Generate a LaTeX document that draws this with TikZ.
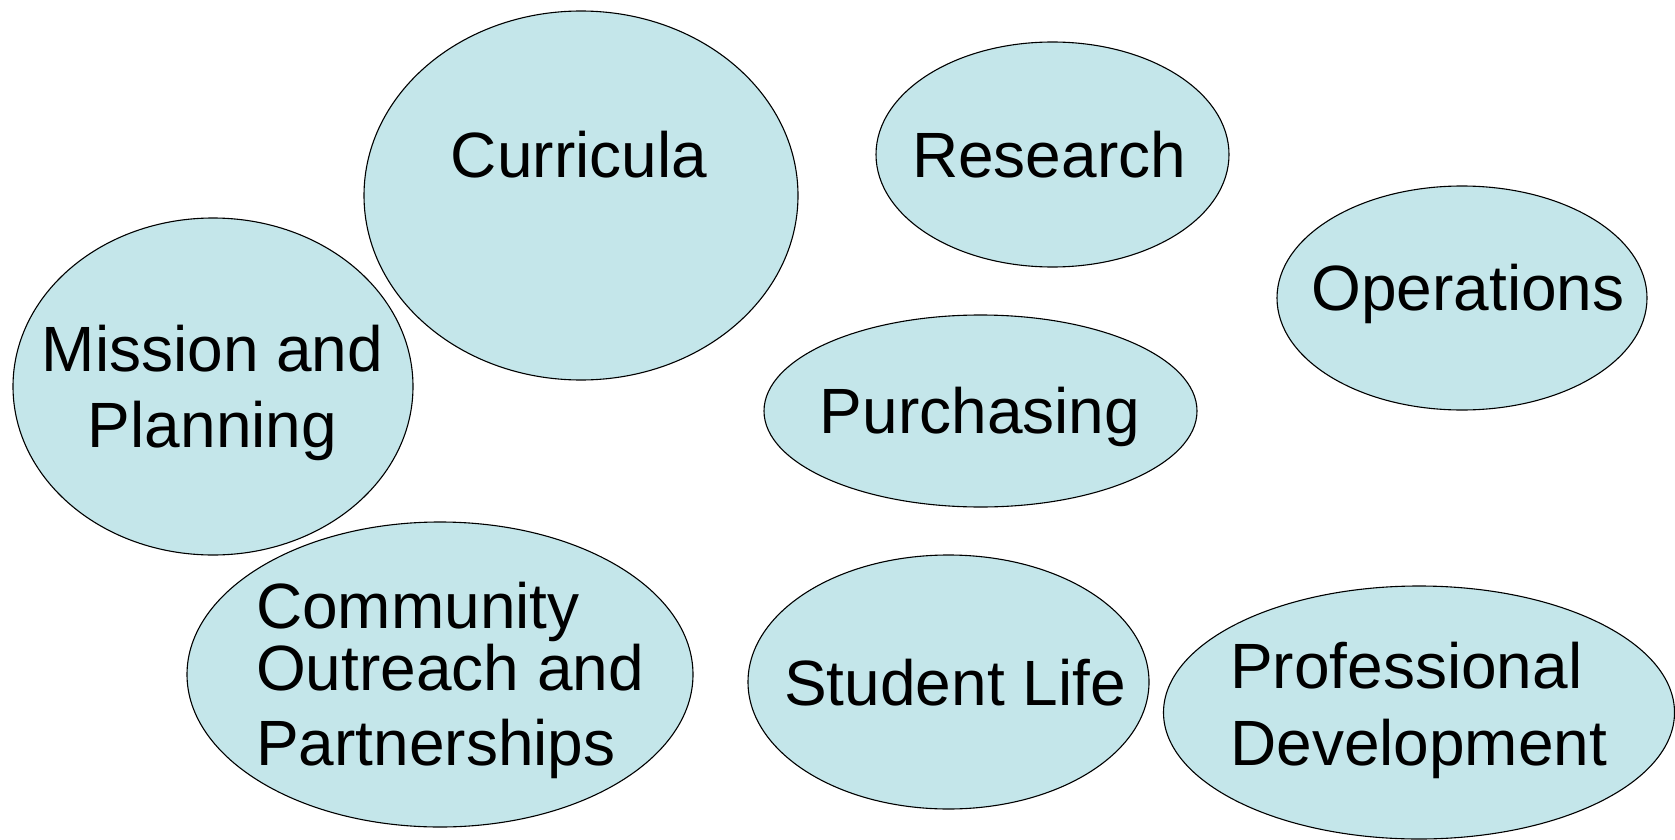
\documentclass[tikz,border=0pt]{standalone}
\usepackage{fontspec}
\setmainfont{Liberation Sans}
\usetikzlibrary{shapes.geometric}
\definecolor{bubblefill}{RGB}{196,230,234}
\tikzset{
  bubble/.style={ellipse, draw=black, line width=1.1pt, fill=bubblefill, inner sep=0pt},
  lbl/.style={inner sep=0pt, font=\fontsize{64}{76}\selectfont, text=black},
}
\begin{document}
\begin{tikzpicture}[x=1pt,y=-1pt]
\useasboundingbox (0,0) rectangle (1675,840);
% ellipses
\node[bubble, minimum width=434pt, minimum height=369pt] (curr) at (581,195.5) {};
\node[bubble, minimum width=353pt, minimum height=225pt] (res) at (1052.5,154.5) {};
\node[bubble, minimum width=370pt, minimum height=224pt] (ops) at (1462,298) {};
\node[bubble, minimum width=400pt, minimum height=337pt] (miss) at (213,386.5) {};
\node[bubble, minimum width=433pt, minimum height=192pt] (purch) at (980.5,411) {};
\node[bubble, minimum width=506pt, minimum height=305pt] (comm) at (440,674.5) {};
\node[bubble, minimum width=401pt, minimum height=254pt] (stud) at (948.5,682) {};
\node[bubble, minimum width=511pt, minimum height=253pt] (prof) at (1419,712.5) {};
% labels
\node[lbl, anchor=base] (tcurr) at (579,177) {Curricula};
\node[lbl, anchor=base] (tres) at (1049,177) {Research};
\node[lbl, anchor=base] (tops) at (1468,310) {Operations};
\node[lbl, anchor=base] (tmiss1) at (212.5,371) {Mission and};
\node[lbl, anchor=base] (tmiss2) at (212.5,447) {Planning};
\node[lbl, anchor=base] (tpurch) at (980,433) {Purchasing};
\node[lbl, anchor=base west] (tcomm1) at (256,628) {Community};
\node[lbl, anchor=base west] (tcomm2) at (256,690) {Outreach and};
\node[lbl, anchor=base west] (tcomm3) at (256,765) {Partnerships};
\node[lbl, anchor=base] (tstud) at (955,705) {Student Life};
\node[lbl, anchor=base west] (tprof1) at (1230,688) {Professional};
\node[lbl, anchor=base west] (tprof2) at (1230,765) {Development};
\end{tikzpicture}
\end{document}
